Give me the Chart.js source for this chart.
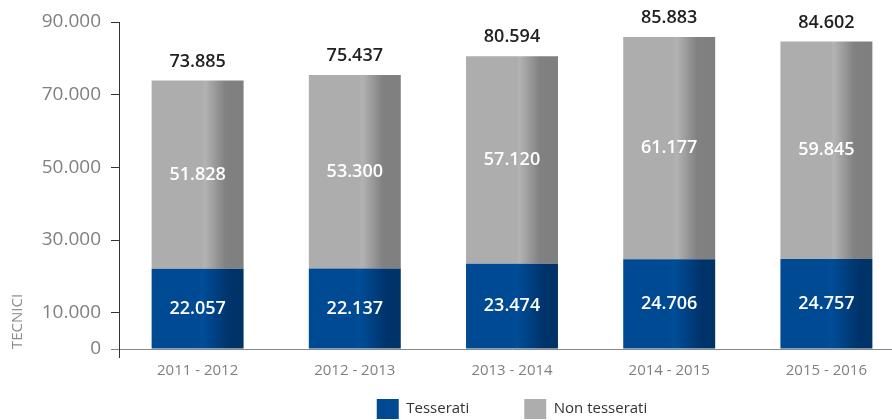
<!DOCTYPE html>
<html>
<head>
<meta charset="utf-8">
<script src="https://cdn.jsdelivr.net/npm/chart.js@4"></script>
<style>
  html, body { margin: 0; padding: 0; background: #fff; overflow: hidden; }
  #wrap { width: 910px; height: 420px; }
</style>
</head>
<body>
<div id="wrap"><canvas id="chart"></canvas></div>
<script>
// data
const seasons = ['2011 - 2012', '2012 - 2013', '2013 - 2014', '2014 - 2015', '2015 - 2016'];
const tesserati = [22057, 22137, 23474, 24706, 24757];
const nonTesserati = [51828, 53300, 57120, 61177, 59845];
const yTicks = [0, 10000, 30000, 50000, 70000, 90000];

const totals = tesserati.map((v, i) => v + nonTesserati[i]);
const BAR_PCT = 0.585;

function fmt(v) {
  return String(v).replace(/\B(?=(\d{3})+(?!\d))/g, '.');
}

// flat on the left, darker shade on the right of each bar
function barGradient(stops) {
  return ctx => {
    const chart = ctx.chart;
    const xs = chart.scales.x;
    if (!chart.chartArea || !xs || ctx.dataIndex === undefined) return stops[0][1];
    const c = xs.getPixelForValue(ctx.dataIndex);
    const half = xs.width / seasons.length * BAR_PCT / 2;
    const g = chart.ctx.createLinearGradient(c - half, 0, c + half, 0);
    stops.forEach(s => g.addColorStop(s[0], s[1]));
    return g;
  };
}

const blueStops = [[0, '#004a94'], [0.5, '#004a94'], [0.55, '#004d98'], [0.85, '#00336a'], [1, '#003366']];
const greyStops = [[0, '#adadad'], [0.55, '#adadad'], [0.58, '#b3b3b3'], [0.8, '#818181'], [1, '#7f7f7f']];
const legendColors = ['#004a94', '#adadad'];

// Start of value labels
const valueLabels = {
  id: 'valueLabels',
  afterDatasetsDraw(chart) {
    const ctx = chart.ctx;
    ctx.save();
    ctx.textAlign = 'center';
    ctx.textBaseline = 'middle';
    ctx.font = '600 18px "Open Sans"';
    chart.data.datasets.forEach((ds, i) => {
      chart.getDatasetMeta(i).data.forEach((bar, j) => {
        ctx.fillStyle = '#ffffff';
        ctx.fillText(fmt(ds.data[j]), bar.x, (bar.y + bar.base) / 2);
      });
    });
    const top = chart.getDatasetMeta(chart.data.datasets.length - 1).data;
    ctx.fillStyle = '#222222';
    top.forEach((bar, j) => ctx.fillText(fmt(totals[j]), bar.x, bar.y - 19));
    ctx.restore();
  }
};
// End of value labels

// wide gap between legend items without a tall legend box
const legendGap = {
  id: 'legendGap',
  afterInit(chart) {
    const lg = chart.legend;
    const fit = lg.fit;
    const draw = lg.draw;
    lg.fit = function () { fit.call(this); this.height = 30; };
    lg.draw = function () {
      const t = this.top;
      this.top = t - 46;
      draw.call(this);
      this.top = t;
    };
  }
};

Chart.defaults.font.family = '"Open Sans", sans-serif';

new Chart(document.getElementById('chart'), {
  type: 'bar',
  data: {
    labels: seasons,
    datasets: [
      {
        label: 'Tesserati',
        data: tesserati,
        backgroundColor: barGradient(blueStops),
        barPercentage: BAR_PCT,
        categoryPercentage: 1
      },
      {
        label: 'Non tesserati',
        data: nonTesserati,
        backgroundColor: barGradient(greyStops),
        barPercentage: BAR_PCT,
        categoryPercentage: 1
      }
    ]
  },
  options: {
    responsive: true,
    maintainAspectRatio: false,
    animation: false,
    layout: { padding: { top: 22, right: 5, left: 0, bottom: 0 } },
    plugins: {
      tooltip: { enabled: false },
      legend: {
        position: 'bottom',
        fullSize: false,
        labels: {
          boxWidth: 22,
          boxHeight: 20,
          padding: 55,
          color: '#333333',
          font: { size: 15 },
          generateLabels: chart => Chart.defaults.plugins.legend.labels.generateLabels(chart)
            .map((item, i) => Object.assign(item, { fillStyle: legendColors[i], lineWidth: 0 }))
        }
      }
    },
    scales: {
      x: {
        stacked: true,
        offset: true,
        afterFit: s => { s.height = 41; },
        border: { display: true, color: '#888888', width: 1 },
        grid: {
          display: true,
          drawOnChartArea: false,
          offset: true,
          tickLength: 9,
          color: c => c.index === 0 ? '#333333' : 'rgba(0,0,0,0)'
        },
        ticks: { color: '#808080', font: { size: 15 }, padding: 4 }
      },
      y: {
        stacked: true,
        min: 0,
        max: 90000,
        afterFit: s => { s.width = 119; },
        afterBuildTicks: s => { s.ticks = yTicks.map(v => ({ value: v })); },
        border: { display: true, color: '#333333', width: 1 },
        grid: {
          display: true,
          drawOnChartArea: false,
          tickLength: 8,
          color: c => c.index === 0 ? '#888888' : '#333333'
        },
        ticks: {
          color: '#808080',
          font: { size: 19 },
          padding: 10,
          callback: v => fmt(v)
        },
        title: {
          display: true,
          text: 'TECNICI',
          align: 'start',
          color: '#8c8c8c',
          font: { size: 15 },
          padding: { top: 9, bottom: 0 }
        }
      }
    }
  },
  plugins: [valueLabels, legendGap]
});
</script>
</body>
</html>
